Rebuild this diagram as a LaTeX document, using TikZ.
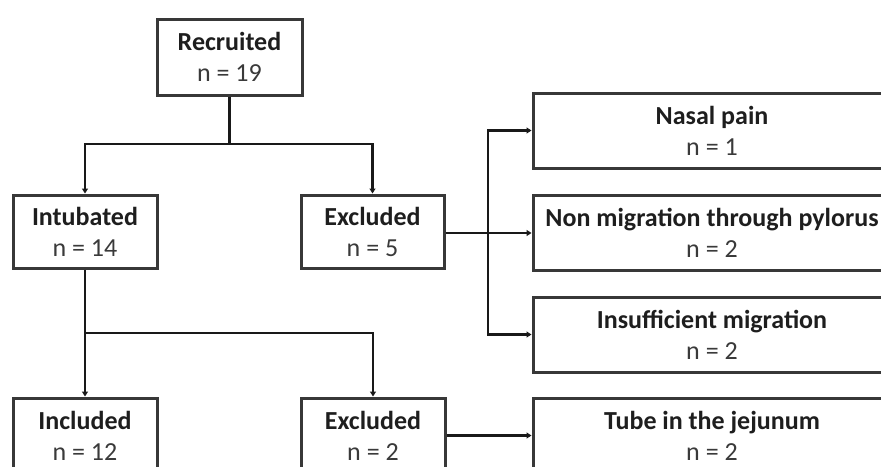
\documentclass[tikz,border=0pt]{standalone}
\usepackage{fontspec}
\setmainfont{Carlito}
\usetikzlibrary{arrows.meta}
\definecolor{boxline}{HTML}{383838}
\definecolor{txt}{HTML}{1E1E1E}
\definecolor{txtn}{HTML}{3A3A3A}
\tikzset{
  flowbox/.style={draw=boxline, line width=3pt, fill=white, rectangle, inner sep=0pt,
    minimum width=144pt, minimum height=74pt, align=center, text=txt,
    font=\fontsize{26}{31}\selectfont},
  widebox/.style={flowbox, minimum width=358pt},
  conn/.style={draw=black!90, line width=2.2pt},
  arr/.style={conn, -{Triangle[length=5pt,width=6pt]}},
}
\newcommand{\boxtext}[2]{\textbf{#1}\\{\color{txtn}#2}}
\begin{document}
\begin{tikzpicture}[x=1pt,y=-1pt]
\useasboundingbox (0,0) rectangle (881,466);
\clip (0,0) rectangle (881,466);
\fill[white] (0,0) rectangle (881,466);
% nodes
\node[flowbox, minimum width=145pt, minimum height=76pt] (rec) at (229.5,57) {\boxtext{Recruited}{n = 19}};
\node[flowbox, minimum height=73pt] (int) at (85,231.5) {\boxtext{Intubated}{n = 14}};
\node[flowbox, minimum height=73pt, minimum width=143pt] (exc1) at (372.5,231.5) {\boxtext{Excluded}{n = 5}};
\node[widebox, minimum height=75pt] (nasal) at (712,130.5) {\boxtext{Nasal pain}{n = 1}};
\node[widebox, minimum height=75pt] (nonmig) at (712,232.5) {\boxtext{Non migration through pylorus}{n = 2}};
\node[widebox, minimum height=75pt] (insuf) at (712,334.5) {\boxtext{Insufficient migration}{n = 2}};
\node[flowbox, minimum height=75pt] (incl) at (85,435.5) {\boxtext{Included}{n = 12}};
\node[flowbox, minimum height=75pt] (exc2) at (373,435.5) {\boxtext{Excluded}{n = 2}};
\node[widebox, minimum height=75pt] (tube) at (712,435.5) {\boxtext{Tube in the jejunum}{n = 2}};
% junctions
\coordinate (j1) at (229.5,144);
\coordinate (j2) at (488,233);
\coordinate (j3) at (85,333);
% connectors
\draw[conn] (rec.south) -- (j1);
\draw[arr] (j1) -| (int.north);
\draw[arr] (j1) -| (exc1.north);
\draw[arr] (exc1.east |- j2) -- (nonmig.west |- j2);
\draw[arr] (j2) |- (nasal.west);
\draw[arr] (j2) |- (insuf.west);
\draw[arr] (int.south) -- (incl.north);
\draw[arr] (j3) -| (exc2.north);
\draw[arr] (exc2.east) -- (tube.west);
\end{tikzpicture}
\end{document}
